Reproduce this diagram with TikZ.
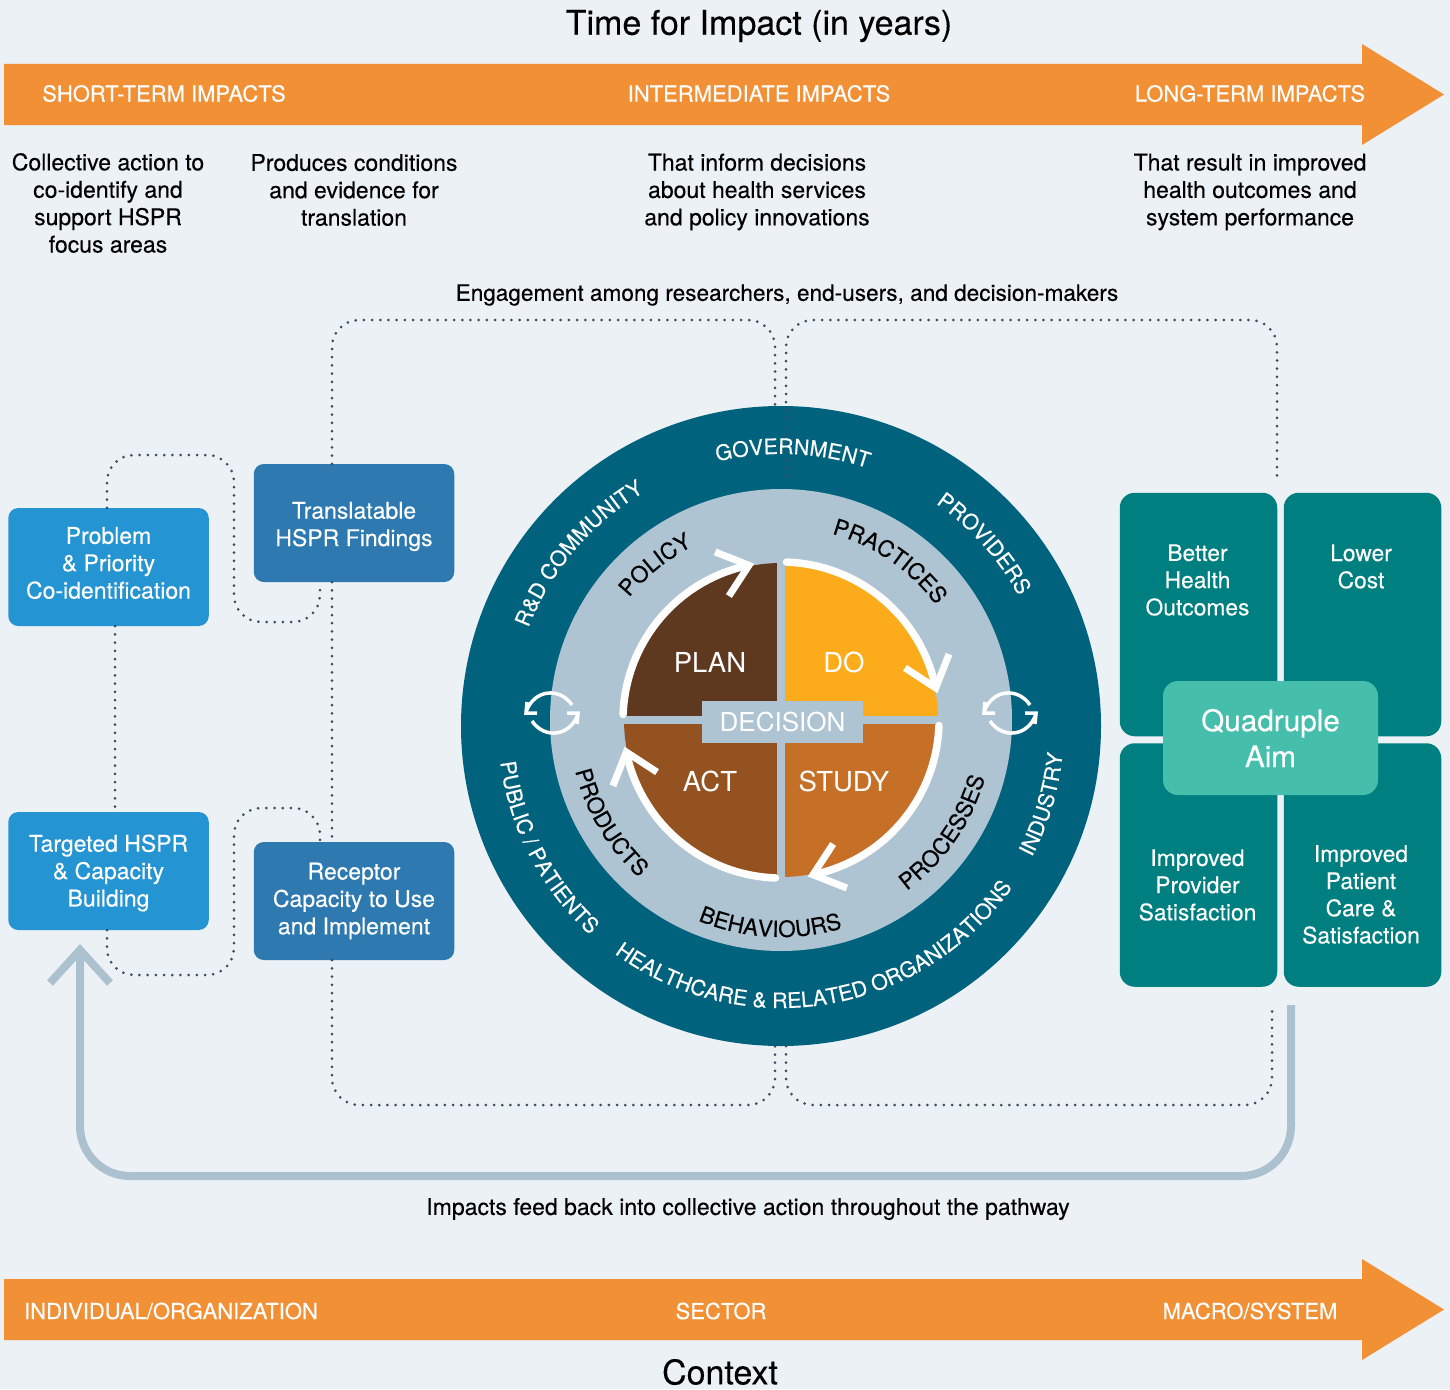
\documentclass[tikz,border=0pt]{standalone}
\usepackage{fontspec}
\setmainfont{TeX Gyre Heros}[UprightFeatures={FakeBold=0.25}]
\newfontfamily\thinfont{TeX Gyre Heros}
\usepackage{xcolor}
\usetikzlibrary{decorations.text}
\definecolor{pagebg}{HTML}{ECF1F5}
\definecolor{bandorange}{HTML}{F29035}
\definecolor{ringteal}{HTML}{00627C}
\definecolor{midblue}{HTML}{AFC4D2}
\definecolor{planbrown}{HTML}{5F3820}
\definecolor{doyellow}{HTML}{FCAC1A}
\definecolor{actbrown}{HTML}{935220}
\definecolor{studyorange}{HTML}{C67027}
\definecolor{boxblue}{HTML}{2594D3}
\definecolor{boxdark}{HTML}{2D79B0}
\definecolor{aimteal}{HTML}{007F80}
\definecolor{aimlight}{HTML}{45BFAB}
\definecolor{dotgrey}{HTML}{3A4F5F}
\definecolor{loopblue}{HTML}{ABC1CF}
\newcommand{\bodyfont}{\fontsize{23}{27.4}\selectfont}
\newcommand{\bandfont}{\fontsize{22}{26}\selectfont}
\newcommand{\outerlabel}{\color{white}\fontsize{21.3}{26}\selectfont}
\newcommand{\innerlabel}{\color{black}\fontsize{22.5}{26}\selectfont}
\newcommand{\pdcafont}{\thinfont\fontsize{27.5}{32}\selectfont}
\newcommand{\bendtext}[6]{\path[decorate,decoration={text along path,text align=center,text={|#5|#6}}]
  ([shift={(#1)}]#3+#4*80:#2) arc[start angle=#3+#4*80,end angle=#3-#4*80,radius=#2];}
\tikzset{
  bandtext/.style={text=white,font=\bandfont,inner sep=0pt},
  bodytext/.style={align=center,font=\bodyfont,inner sep=0pt},
  headtext/.style={font=\fontsize{34}{40}\selectfont,inner sep=0pt},
  hsprbox/.style={fill=#1,rounded corners=10pt,minimum width=200.5pt,minimum height=118pt,inner sep=0pt},
  hsprtext/.style={text=white,align=center,font=\bodyfont,inner sep=0pt},
  aimbox/.style={fill=aimteal,rounded corners=15pt,minimum width=157.5pt,minimum height=243.5pt,inner sep=0pt},
  aimtext/.style={text=white,align=center,font=\fontsize{22.8}{27.2}\selectfont,inner sep=0pt},
  pdcatext/.style={text=white,font=\pdcafont,inner sep=0pt},
  dotline/.style={draw=dotgrey,line width=3pt,line cap=round,dash pattern=on 0pt off 8.2pt,rounded corners=27pt},
  cyclearc/.style={draw=white,line width=7.5pt,line cap=round},
  cyclehead/.style={draw=white,line width=7pt},
  feedback/.style={draw=loopblue,line width=8pt},
  syncicon/.pic={
    \foreach \turn in {0,180}{
      \begin{scope}[rotate=\turn]
        \draw[white,line width=3.5pt] (20,8) .. controls (8,26) and (-18,24) .. (-26,1);
        \draw[white,line width=3.5pt] (-25,11) -- (-26,0) -- (-15,0);
      \end{scope}
    }
  }
}
\begin{document}
\begin{tikzpicture}[x=1pt,y=1pt]
  \useasboundingbox (0,-1389) rectangle (1450,0);
  \fill[pagebg] (0,-1389) rectangle (1450,0);

  \fill[bandorange] (4,-64) -- (1362,-64) -- (1362,-44) -- (1444,-94.5) -- (1362,-145) -- (1362,-125) -- (4,-125) -- cycle;
  \fill[bandorange] (4,-1279) -- (1362,-1279) -- (1362,-1259) -- (1444,-1309.5) -- (1362,-1360) -- (1362,-1340) -- (4,-1340) -- cycle;

  \node[headtext] (title) at (759,-26) {Time for Impact (in years)};
  \node[headtext] (context) at (720,-1372) {Context};
  \node[bandtext] (shortterm) at (164,-93.5) {SHORT-TERM IMPACTS};
  \node[bandtext] (intermediate) at (759,-93.5) {INTERMEDIATE IMPACTS};
  \node[bandtext] (longterm) at (1250,-93.5) {LONG-TERM IMPACTS};
  \node[bandtext] (individual) at (171,-1311) {INDIVIDUAL/ORGANIZATION};
  \node[bandtext] (sector) at (721,-1311) {SECTOR};
  \node[bandtext] (macro) at (1250,-1311) {MACRO/SYSTEM};

  \node[bodytext] (collective) at (108,-203) {Collective action to\\co-identify and\\support HSPR\\focus areas};
  \node[bodytext] (produces) at (354,-190) {Produces conditions\\and evidence for\\translation};
  \node[bodytext] (inform) at (757,-192) {That inform decisions\\about health services\\and policy innovations};
  \node[bodytext] (result) at (1250,-192) {That result in improved\\health outcomes and\\system performance};
  \node[bodytext,font=\fontsize{22.6}{27.4}\selectfont] (engagement) at (787,-295) {Engagement among researchers, end-users, and decision-makers};
  \node[bodytext] (feedbacktext) at (748,-1209) {Impacts feed back into collective action throughout the pathway};

  \node[hsprbox=boxblue] (problem) at (108.5,-567) {};
  \node[hsprbox=boxblue] (targeted) at (108.5,-871) {};
  \node[hsprbox=boxdark] (translatable) at (354,-523) {};
  \node[hsprbox=boxdark] (receptor) at (354,-901) {};
  \node[hsprtext] (problemtext) at (108.5,-563) {Problem\\\& Priority\\Co-identification};
  \node[hsprtext] (targetedtext) at (108.5,-873) {Targeted HSPR\\\& Capacity\\Building};
  \node[hsprtext] (translatabletext) at (354,-526.5) {Translatable\\HSPR Findings};
  \node[hsprtext] (receptortext) at (354,-901) {Receptor\\Capacity to Use\\and Implement};

  \node[circle,fill=ringteal,minimum size=640pt,inner sep=0pt] (ring) at (781,-726) {};
  \coordinate (hub) at (781,-720);
  \fill[midblue] (hub) circle[radius=231];
  \foreach \col/\ang in {planbrown/90,doyellow/0,studyorange/-90,actbrown/180}{
    \fill[\col] (hub) -- ([shift={(hub)}]\ang:157) arc[start angle=\ang,end angle=\ang+90,radius=157] -- cycle;
  }
  \draw[midblue,line width=8pt] ([shift={(hub)}]90:158) -- ([shift={(hub)}]-90:158);
  \draw[midblue,line width=8pt] ([shift={(hub)}]180:158) -- ([shift={(hub)}]0:158);
  \node[fill=midblue,text=white,font=\thinfont\fontsize{26}{30}\selectfont,minimum width=161pt,minimum height=42pt,inner sep=0pt] (decision) at (782.5,-722) {DECISION};
  \foreach \rot in {0,-90,-180,-270}{
    \draw[cyclearc] ([shift={(hub)}]178+\rot:158) arc[start angle=178+\rot,end angle=102+\rot,radius=158];
    \draw[cyclehead] ([shift={(hub)}]111.4+\rot:180.5) -- ([shift={(hub)}]101.7+\rot:158) -- ([shift={(hub)}]112.8+\rot:134.5);
  }
  \node[pdcatext] (plan) at (710,-662) {PLAN};
  \node[pdcatext] (do) at (844,-662) {DO};
  \node[pdcatext] (act) at (710,-781) {ACT};
  \node[pdcatext] (study) at (844,-781) {STUDY};
  \pic at (552,-713) {syncicon};
  \pic at (1010,-713) {syncicon};

  \bendtext{ring.center}{272}{87.5}{1}{\outerlabel}{GOVERNMENT}
  \bendtext{ring.center}{271}{139.5}{1}{\outerlabel}{R{\&}D COMMUNITY}
  \bendtext{ring.center}{271}{41.9}{1}{\outerlabel}{PROVIDERS}
  \bendtext{ring.center}{283}{-16.6}{-1}{\outerlabel}{INDUSTRY}
  \bendtext{ring.center}{282}{-80.5}{-1}{\outerlabel}{HEALTHCARE {\&} RELATED ORGANIZATIONS}
  \bendtext{ring.center}{283}{-152.5}{-1}{\outerlabel}{PUBLIC / PATIENTS}
  \bendtext{hub}{195}{129}{1}{\innerlabel}{POLICY}
  \bendtext{hub}{193}{55.6}{1}{\innerlabel}{PRACTICES}
  \bendtext{hub}{217}{-93}{-1}{\innerlabel}{BEHAVIOURS}
  \bendtext{hub}{212}{-34.7}{-1}{\innerlabel}{PROCESSES}
  \bendtext{hub}{212}{-149}{-1}{\innerlabel}{PRODUCTS}

  \node[aimbox] (better) at (1198.5,-614.5) {};
  \node[aimbox] (lower) at (1362.5,-614.5) {};
  \node[aimbox] (provider) at (1198.5,-865) {};
  \node[aimbox] (patient) at (1362.5,-865) {};
  \node[aimtext] (bettertext) at (1197.5,-580) {Better\\Health\\Outcomes};
  \node[aimtext] (lowertext) at (1361,-566.5) {Lower\\Cost};
  \node[aimtext] (providertext) at (1197.5,-885) {Improved\\Provider\\Satisfaction};
  \node[aimtext] (patienttext) at (1361,-894.5) {Improved\\Patient\\Care \&\\Satisfaction};
  \node[fill=aimlight,rounded corners=15pt,minimum width=215pt,minimum height=114pt,inner sep=0pt,text=white,align=center,font=\fontsize{29.7}{36}\selectfont] (quadruple) at (1270.5,-738) {Quadruple\\Aim};

  \draw[dotline] (problem.north -| 107,0) -- (107,-455) -- (234,-455) -- (234,-622) -- (320,-622) -- (translatable.south -| 320,0);
  \draw[dotline] (targeted.south -| 107,0) -- (107,-975) -- (234,-975) -- (234,-808) -- (320,-808) -- (receptor.north -| 320,0);
  \draw[dotline] (problem.south -| 115,0) -- (targeted.north -| 115,0);
  \draw[dotline] (translatable.south -| 332,0) -- (receptor.north -| 332,0);
  \draw[dotline] (translatable.north -| 332,0) -- (332,-320) -- (775,-320) -- (ring.north -| 775,0);
  \coordinate (ringdots) at (786,-476);
  \draw[dotline] (ringdots) -- (786,-320) -- (1277,-320) -- (1277,-478);
  \draw[dotline] (receptor.south -| 332,0) -- (332,-1105) -- (775,-1105) -- (ring.south -| 775,0);
  \draw[dotline] (ring.south -| 786,0) -- (786,-1105) -- (1272,-1105) -- (1272,-1004);

  \coordinate (loopstart) at (1291,-1005);
  \coordinate (looptip) at (80,-950);
  \draw[feedback,rounded corners=50pt] (loopstart) -- (1291,-1176) -- (80,-1176) -- (looptip);
  \draw[feedback] ([shift={(looptip)}]-30,-33) -- (looptip) -- ([shift={(looptip)}]30,-33);
\end{tikzpicture}
\end{document}
